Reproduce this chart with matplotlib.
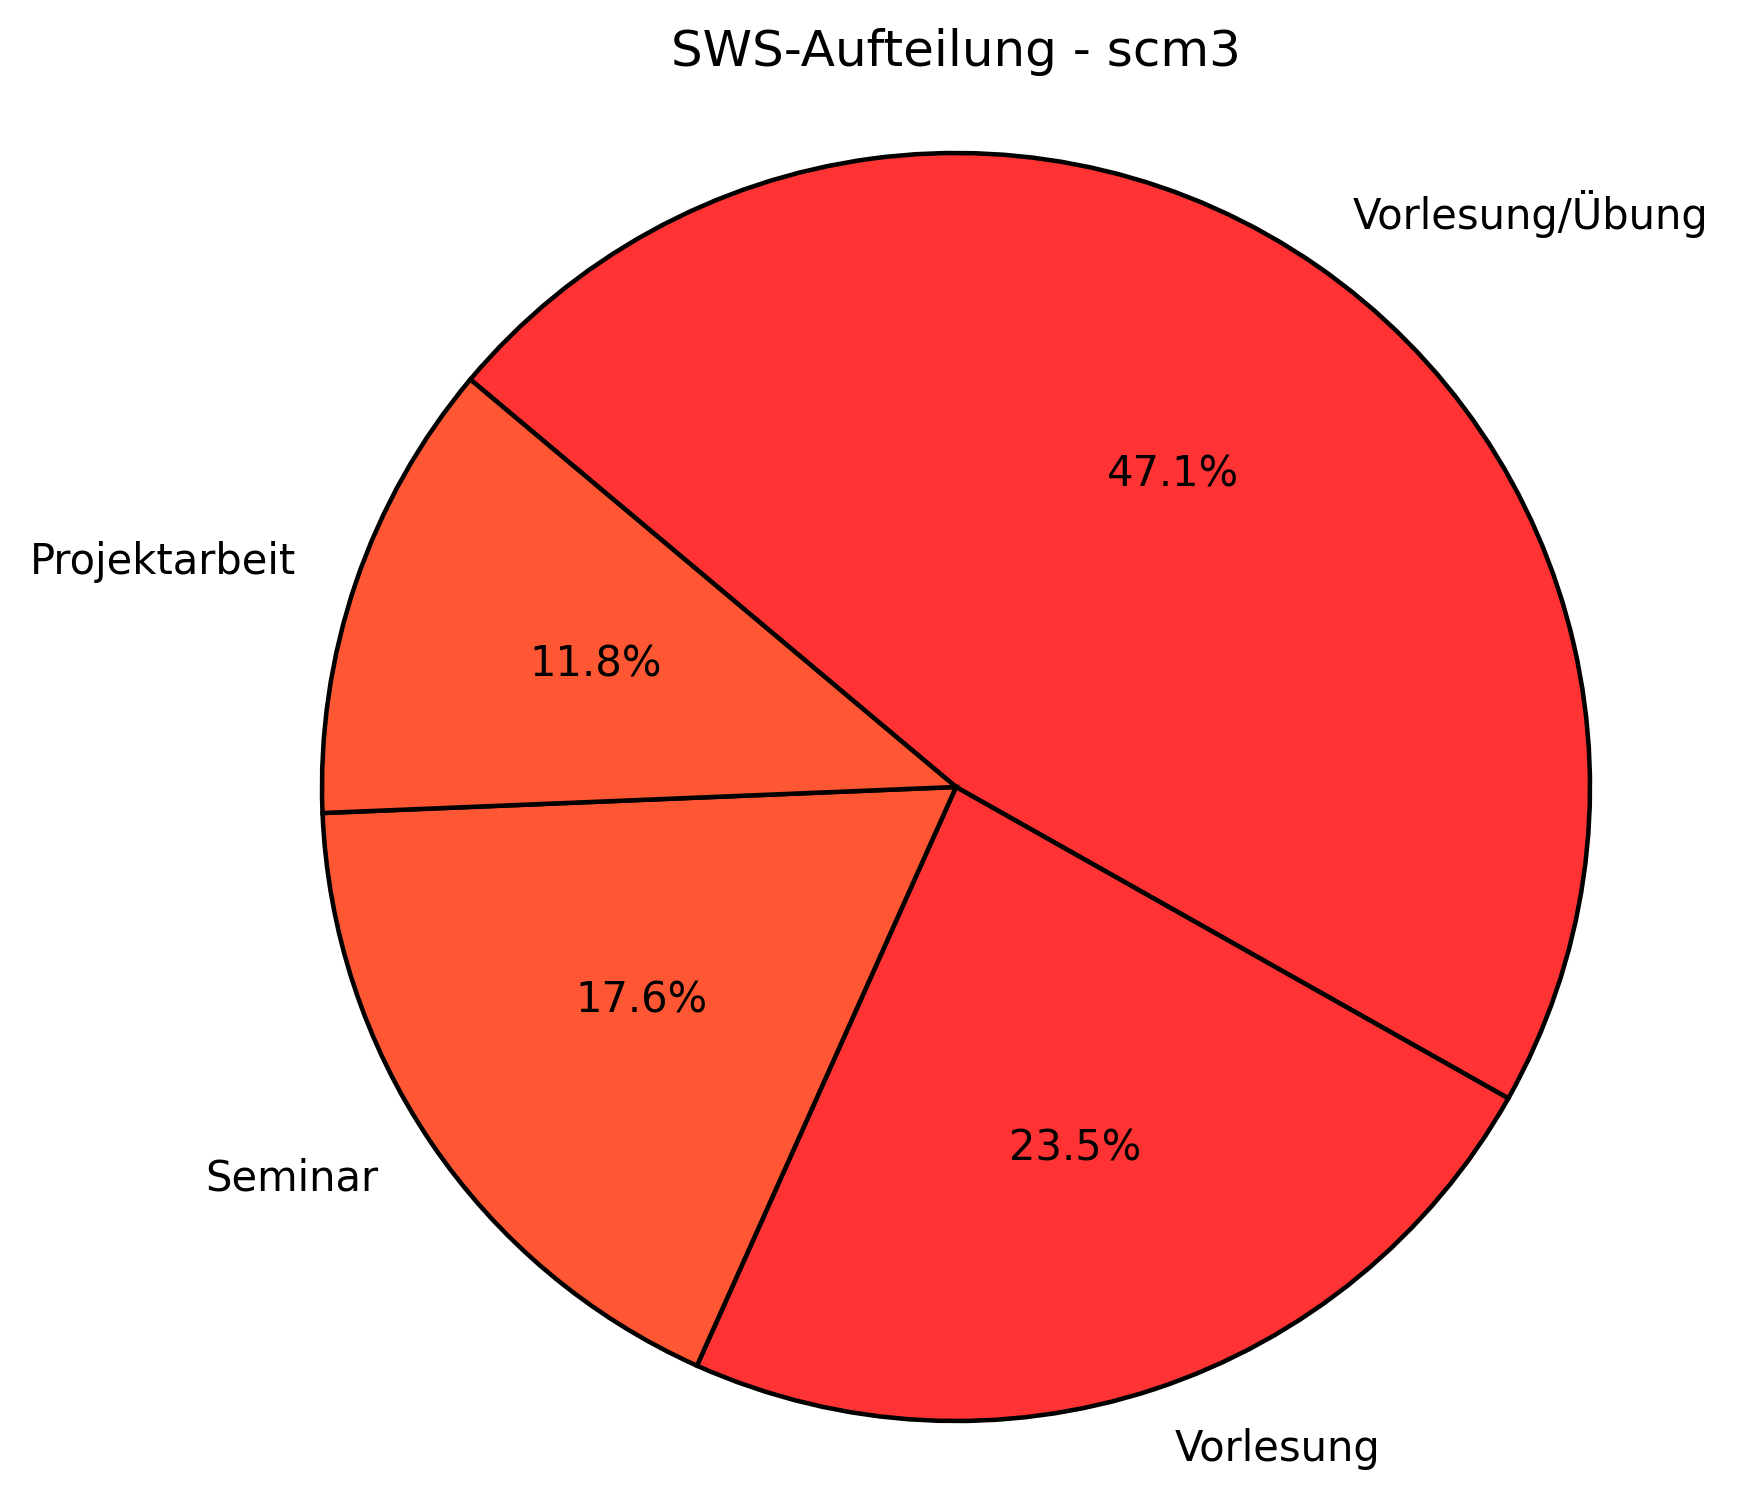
import matplotlib
matplotlib.use("Agg")
import matplotlib.pyplot as plt

# SWS-Aufteilung (Semesterwochenstunden) fuer scm3
labels = ["Vorlesung/Übung", "Vorlesung", "Seminar", "Projektarbeit"]
sws = [8, 4, 3, 2]
colors = ["#FF3333", "#FF3333", "#FF5733", "#FF5733"]

DPI = 250
W, H = 1739, 1509
CX, CY = 956, 1509 - 787   # pie centre in pixels (from bottom)
R = 634                    # pie radius in pixels

fig = plt.figure(figsize=(W / DPI, H / DPI), dpi=DPI)
ax = fig.add_axes([0, 0, 1, 1])

ax.pie(
    sws,
    labels=labels,
    colors=colors,
    autopct="%1.1f%%",
    startangle=140,
    counterclock=False,
    wedgeprops={"edgecolor": "black", "linewidth": 1.3},
    textprops={"fontsize": 12},
)
ax.set_xlim(-CX / R, (W - CX) / R)
ax.set_ylim(-CY / R, (H - CY) / R)
ax.set_aspect("auto")
ax.axis("off")

fig.text(CX / W, 1 - 52 / H, "SWS-Aufteilung - scm3", ha="center", va="center", fontsize=14.4)

fig.savefig("out.png", dpi=DPI)
